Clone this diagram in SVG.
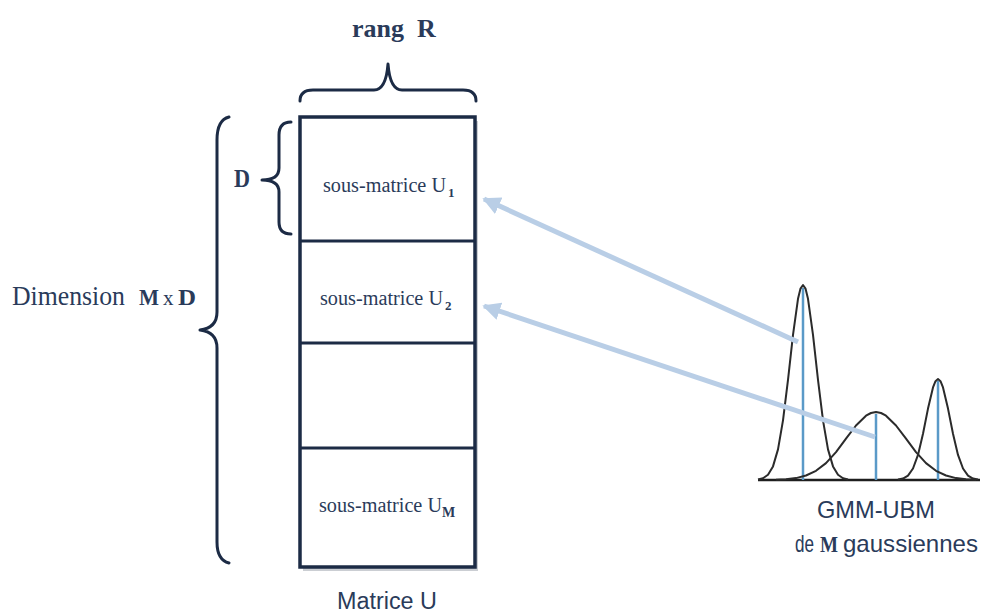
<svg xmlns="http://www.w3.org/2000/svg" width="983" height="614" viewBox="0 0 983 614">
<defs>
<style>
.brace{fill:none;stroke:#1c2b45;stroke-width:3;stroke-linecap:round;stroke-linejoin:round}
.serif{font-family:"Liberation Serif","Times New Roman",serif;fill:#2a3b5a}
.sans{font-family:"Liberation Sans",Arial,sans-serif;fill:#2a3b5a}
.sub{font-family:"Liberation Serif",serif;font-size:20px;fill:#2a3b5a}
.gauss{fill:none;stroke:#2b2b2b;stroke-width:2;stroke-linejoin:round}
.mean{stroke:#5a9ac8;stroke-width:2.5}
.conn{stroke:#b9cee6;stroke-width:5;fill:none}
</style>
<marker id="ah" viewBox="0 0 10 10" refX="9" refY="5" markerWidth="3.6" markerHeight="3.6" orient="auto" markerUnits="strokeWidth">
<path d="M0,0 L10,5 L0,10 Z" fill="#b9cee6"/>
</marker>
</defs>
<rect width="983" height="614" fill="#ffffff"/>

<g id="title-rang">
<text class="serif" x="352" y="37" font-size="26" font-weight="bold">rang</text>
<text class="serif" x="417" y="37" font-size="26" font-weight="bold">R</text>
<path class="brace" d="M300,101 Q300,90 313,90 L374,90 Q386,90 388,64 Q390,90 402,90 L463,90 Q476,90 476,101"/>
</g>

<g id="dimension">
<text class="serif" x="12" y="305" font-size="28" textLength="113" lengthAdjust="spacingAndGlyphs" fill="#3b4a6b">Dimension</text>
<text class="serif" x="139" y="305" font-size="23" font-weight="bold" textLength="20" lengthAdjust="spacingAndGlyphs">M</text>
<text class="serif" x="163" y="305" font-size="21">x</text>
<text class="serif" x="178" y="305" font-size="23" font-weight="bold" textLength="18" lengthAdjust="spacingAndGlyphs">D</text>
<path class="brace" d="M229,117 Q217,120 217,140 L217,312 Q217,328 200,330 Q217,332 217,348 L217,542 Q217,560 229,563"/>
</g>

<g id="d-label">
<text class="serif" x="234" y="187" font-size="26" font-weight="bold" textLength="16" lengthAdjust="spacingAndGlyphs">D</text>
<path class="brace" d="M291,122 Q279,122 279,135 L279,168 Q279,180 262,180 Q279,180 279,192 L279,222 Q279,234 291,234"/>
</g>

<g id="matrice-u">
<rect x="303" y="121" width="175" height="450" fill="#a0a6ae" opacity="0.55"/>
<rect x="300" y="117" width="175" height="450" fill="#ffffff" stroke="#1c2b45" stroke-width="3.5"/>
<line x1="300" y1="241" x2="475" y2="241" stroke="#1c2b45" stroke-width="3"/>
<line x1="300" y1="343" x2="475" y2="343" stroke="#1c2b45" stroke-width="3"/>
<line x1="300" y1="448" x2="475" y2="448" stroke="#1c2b45" stroke-width="3"/>
<text class="sans" x="337" y="609" font-size="23" textLength="100" lengthAdjust="spacingAndGlyphs">Matrice U</text>
</g>

<g id="sous-matrice-1">
<text class="sub" x="323" y="192" textLength="123" lengthAdjust="spacingAndGlyphs">sous-matrice U</text>
<text class="serif" x="448" y="197" font-size="13" font-weight="bold" fill="#8a4a1e">1</text>
</g>
<g id="sous-matrice-2">
<text class="sub" x="320" y="305" textLength="123" lengthAdjust="spacingAndGlyphs">sous-matrice U</text>
<text class="serif" x="445" y="310" font-size="13" font-weight="bold">2</text>
</g>
<g id="sous-matrice-3"></g>
<g id="sous-matrice-m">
<text class="sub" x="319" y="512" textLength="123" lengthAdjust="spacingAndGlyphs">sous-matrice U</text>
<text class="serif" x="442" y="517" font-size="14" font-weight="bold">M</text>
</g>

<g id="gmm-ubm">
<line x1="758" y1="480" x2="980" y2="480" stroke="#1e1e1e" stroke-width="2.5"/>
<line class="mean" x1="803" y1="288" x2="803" y2="480"/>
<line class="mean" x1="876" y1="414" x2="876" y2="480"/>
<line class="mean" x1="938" y1="381" x2="938" y2="480"/>
<polyline class="gauss" points="758,479.5 763,478.3 768,474.8 773,466.4 778,449.4 783,420.3 788,379.8 793,334.9 798,298.8 800.5,288.6 803,285 805.5,288.6 808,298.8 813,334.9 818,379.8 823,420.3 828,449.4 833,466.4 838,474.8 843,478.3 848,479.5"/>
<polyline class="gauss" points="776,479.7 786,479.2 796,478.1 806,475.5 816,470.8 826,463.1 836,452.1 846,438.7 856,425.5 866,415.7 871,413 876,412 881,413 886,415.7 896,425.5 906,438.7 916,452.1 926,463.1 936,470.8 946,475.5 956,478.1 966,479.2 976,479.7"/>
<polyline class="gauss" points="898,479.6 903,478.6 908,475.6 913,468.5 918,454.9 923,433.7 928,408.6 933,387.4 935.5,381.2 938,379 940.5,381.2 943,387.4 948,408.6 953,433.7 958,454.9 963,468.5 968,475.6 973,478.6 978,479.6"/>
<text class="sans" x="817" y="518" font-size="24" textLength="118" lengthAdjust="spacingAndGlyphs">GMM-UBM</text>
<text class="sans" x="795" y="552" font-size="24" textLength="19" lengthAdjust="spacingAndGlyphs">de</text>
<text class="serif" x="820" y="552" font-size="24" font-weight="bold" textLength="18" lengthAdjust="spacingAndGlyphs">M</text>
<text class="sans" x="843" y="552" font-size="24" textLength="135" lengthAdjust="spacingAndGlyphs">gaussiennes</text>
</g>

<g id="connectors">
<line class="conn" x1="798" y1="342" x2="484" y2="199" marker-end="url(#ah)"/>
<line class="conn" x1="875" y1="437" x2="484" y2="306" marker-end="url(#ah)"/>
</g>
</svg>
